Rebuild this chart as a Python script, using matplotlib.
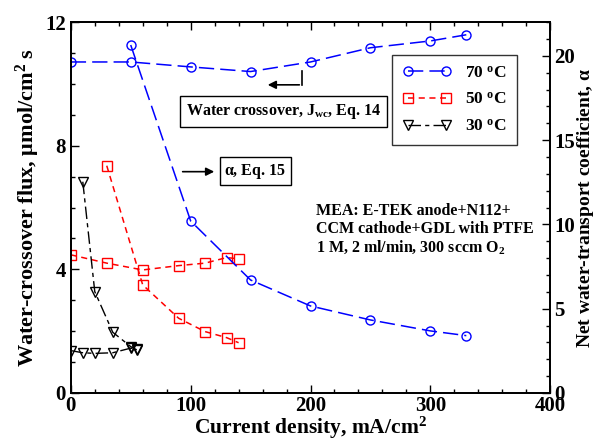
import matplotlib
matplotlib.use('Agg')
import matplotlib.pyplot as plt
from matplotlib.ticker import MultipleLocator

plt.rcParams['font.family'] = ['Liberation Serif', 'DejaVu Serif']
plt.rcParams['font.weight'] = 'bold'
plt.rcParams['mathtext.fontset'] = 'custom'
plt.rcParams['mathtext.rm'] = 'Liberation Serif:bold'
plt.rcParams['mathtext.it'] = 'Liberation Serif:bold'
plt.rcParams['mathtext.bf'] = 'Liberation Serif:bold'

# flux de agua (eixo esquerdo)
i_70 = [0, 50, 100, 150, 200, 250, 300, 330]
flux_70 = [10.71, 10.71, 10.55, 10.4, 10.71, 11.17, 11.39, 11.59]
i_50 = [0, 30, 60, 90, 112, 130, 140]
flux_50 = [4.47, 4.20, 3.98, 4.12, 4.20, 4.38, 4.34]
i_30 = [0, 10, 20, 35, 50, 55]
flux_30 = [1.37, 1.30, 1.28, 1.30, 1.45, 1.41]

# coeficiente alfa (eixo direito)
ia_70 = [50, 100, 150, 200, 250, 300, 330]
alpha_70 = [20.64, 10.2, 6.70, 5.16, 4.33, 3.68, 3.40]
ia_50 = [30, 60, 90, 112, 130, 140]
alpha_50 = [13.48, 6.41, 4.43, 3.64, 3.28, 2.98]
ia_30 = [10, 20, 35, 50, 55]
alpha_30 = [12.53, 6.01, 3.60, 2.75, 2.55]

labels = ['70 $^{\\mathrm{o}}$C', '50 $^{\\mathrm{o}}$C', '30 $^{\\mathrm{o}}$C']

fig = plt.figure(figsize=(6, 4.42), dpi=100)
ax = fig.add_axes([0.118, 0.111, 0.799, 0.839])
ax2 = ax.twinx()

st70 = dict(color='blue', marker='o', mfc='none', ms=6.5, lw=1.1, dashes=(10, 4))
st50 = dict(color='red', marker='s', mfc='none', ms=7, lw=1.1, dashes=(4, 3))
st30 = dict(color='black', marker='v', mfc='none', ms=7, lw=1.0, dashes=(9, 3, 3, 3))

l70, = ax.plot(i_70, flux_70, label=labels[0], **st70)
l50, = ax.plot(i_50, flux_50, label=labels[1], **st50)
l30, = ax.plot(i_30, flux_30, label=labels[2], **st30)
ax2.plot(ia_70, alpha_70, **st70)
ax2.plot(ia_50, alpha_50, **st50)
ax2.plot(ia_30, alpha_30, **st30)

ax.set_xlim(0, 400)
ax.set_ylim(0, 12)
ax2.set_ylim(0, 22)
ax.xaxis.set_major_locator(MultipleLocator(100))
ax.xaxis.set_minor_locator(MultipleLocator(20))
ax.yaxis.set_major_locator(MultipleLocator(4))
ax.yaxis.set_minor_locator(MultipleLocator(1))
ax2.yaxis.set_major_locator(MultipleLocator(5))
ax2.yaxis.set_minor_locator(MultipleLocator(1))

ax.tick_params(which='both', direction='in', top=True, labelsize=15, width=1)
ax.tick_params(which='major', length=6)
ax.tick_params(which='minor', length=3)
ax.tick_params(axis='x', pad=2)
ax2.tick_params(which='both', direction='in', labelsize=15, width=1, pad=3)
ax2.tick_params(which='major', length=6)
ax2.tick_params(which='minor', length=3)
for a in (ax, ax2):
    for s in a.spines.values():
        s.set_linewidth(1.3)

ax.set_xlabel('Current density, mA/cm$^2$', fontsize=15.5, fontweight='bold', labelpad=-1)
ax.set_ylabel('Water-crossover flux, $\\mu$mol/cm$^2$ s', fontsize=16, fontweight='bold', labelpad=2)
ax2.set_ylabel('Net water-transport coefficient, $\\alpha$', fontsize=14, fontweight='bold', labelpad=0)

leg = ax.legend(handles=[l70, l50, l30], loc='upper right', bbox_to_anchor=(0.949, 0.935),
                numpoints=2, fontsize=12.5, frameon=True, fancybox=False, edgecolor='black',
                handlelength=2.8, labelspacing=0.6, borderpad=0.6)
leg.get_frame().set_linewidth(1.0)

# anotacoes
ax.annotate('', xy=(162, 9.97), xytext=(193, 9.97),
            arrowprops=dict(arrowstyle='-|>', color='black', lw=1.2, mutation_scale=12))
ax.plot([193, 193], [9.97, 10.42], color='black', lw=1.2)
ax.text(177.5, 9.11, 'Water crossover, J$_{\\mathrm{wc}}$, Eq. 14', fontsize=11.5,
        ha='center', va='center',
        bbox=dict(boxstyle='square,pad=0.35', fc='white', ec='black', lw=1.0))
ax.annotate('', xy=(122, 7.16), xytext=(91, 7.16),
            arrowprops=dict(arrowstyle='-|>', color='black', lw=1.2, mutation_scale=12))
ax.text(154, 7.18, '$\\alpha$, Eq. 15', fontsize=11.5, ha='center', va='center',
        bbox=dict(boxstyle='square,pad=0.3', fc='white', ec='black', lw=1.0))
ax.text(205, 6.15, 'MEA: E-TEK anode+N112+\nCCM cathode+GDL with PTFE\n1 M, 2 ml/min, 300 sccm O$_2$',
        fontsize=11.5, ha='left', va='top', linespacing=1.15)

fig.savefig('out.png', dpi=100)
